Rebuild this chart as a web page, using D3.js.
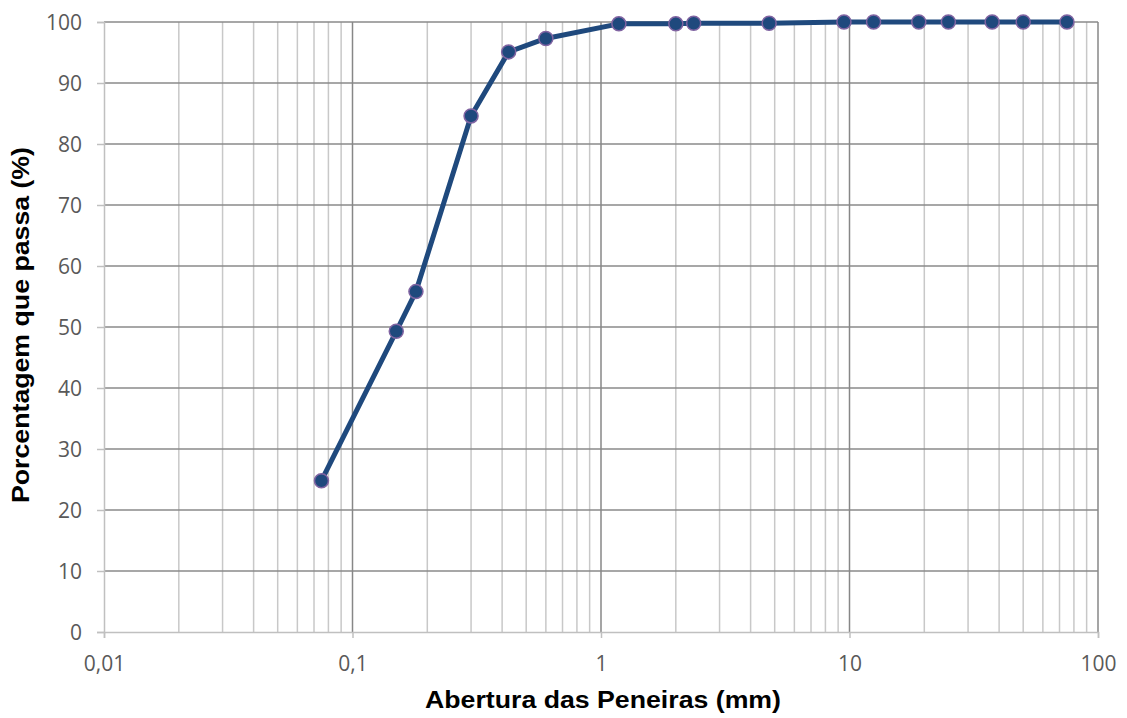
<!DOCTYPE html>
<html>
<head>
<meta charset="utf-8">
<script src="https://cdn.jsdelivr.net/npm/d3@7"></script>
<style>
  html, body { margin: 0; padding: 0; background: #fff; }
  svg { display: block; }
</style>
</head>
<body>
<svg id="chart" width="1127" height="718"></svg>
<script>
// Sieve openings (mm) and cumulative percentage passing
const sieveSizes = [0.075, 0.15, 0.18, 0.3, 0.425, 0.6, 1.18, 2.0, 2.36, 4.75, 9.5, 12.5, 19, 25, 37.5, 50, 75];
const percentPassing = [24.8, 49.3, 55.8, 84.6, 95.1, 97.3, 99.7, 99.7, 99.8, 99.8, 100, 100, 100, 100, 100, 100, 100];

const xTickValues = [0.01, 0.1, 1, 10, 100];
const xTickLabels = ["0,01", "0,1", "1", "10", "100"];
const yTickValues = [0, 10, 20, 30, 40, 50, 60, 70, 80, 90, 100];

const xTitle = "Abertura das Peneiras (mm)";
const yTitle = "Porcentagem que passa (%)";

const svg = d3.select("#chart");
const plotLeft = 104, plotRight = 1098, plotTop = 22, plotBottom = 632;

const x = d3.scaleLog().domain([0.01, 100]).range([plotLeft, plotRight]);
const y = d3.scaleLinear().domain([0, 100]).range([plotBottom, plotTop]);

// Minor vertical gridlines (2..9 within each decade)
const minor = [];
for (let d = 0.01; d < 100; d *= 10) {
  for (let k = 2; k <= 9; k++) minor.push(+(d * k).toPrecision(6));
}
svg.append("g").selectAll("line").data(minor).join("line")
  .attr("x1", d => x(d)).attr("x2", d => x(d))
  .attr("y1", plotTop).attr("y2", plotBottom)
  .attr("stroke", "#c8c8c8").attr("stroke-width", 1.5);

// Horizontal gridlines
svg.append("g").selectAll("line").data(yTickValues.filter(v => v > 0)).join("line")
  .attr("x1", plotLeft).attr("x2", plotRight)
  .attr("y1", d => y(d)).attr("y2", d => y(d))
  .attr("stroke", "#8a8a8a").attr("stroke-width", 1.5);

// Major vertical gridlines at decades
svg.append("g").selectAll("line").data(xTickValues.slice(1)).join("line")
  .attr("x1", d => x(d)).attr("x2", d => x(d))
  .attr("y1", plotTop).attr("y2", plotBottom)
  .attr("stroke", "#878787").attr("stroke-width", 1.5);

// Axes
const fmtX = d => xTickLabels[xTickValues.indexOf(d)];
const xAxis = d3.axisBottom(x).tickValues(xTickValues).tickFormat(fmtX).tickSize(6).tickPadding(18);
const yAxis = d3.axisLeft(y).tickValues(yTickValues).tickSize(7).tickPadding(15);

const gx = svg.append("g").attr("transform", `translate(0,${plotBottom})`).call(xAxis);
const gy = svg.append("g").attr("transform", `translate(${plotLeft},0)`).call(yAxis);

[gx, gy].forEach(g => {
  g.select(".domain").attr("stroke", "#c0c0c0").attr("stroke-width", 1.5);
  g.selectAll(".tick line").attr("stroke", "#c0c0c0").attr("stroke-width", 1.5);
  g.selectAll(".tick text")
    .attr("fill", "#595959")
    .style("font-family", "'Open Sans', 'Noto Sans', sans-serif")
    .style("font-size", "21px");
});
gy.selectAll(".tick text").attr("dy", "0.36em");

// Series line
const line = d3.line().x((d, i) => x(sieveSizes[i])).y(d => y(d));
svg.append("path").datum(percentPassing)
  .attr("d", line)
  .attr("fill", "none")
  .attr("stroke", "#1f497d")
  .attr("stroke-width", 5)
  .attr("stroke-linejoin", "round");

// Markers
svg.append("g").selectAll("circle").data(percentPassing).join("circle")
  .attr("cx", (d, i) => x(sieveSizes[i]))
  .attr("cy", d => y(d))
  .attr("r", 7)
  .attr("fill", "#1f497d")
  .attr("stroke", "#8064a2")
  .attr("stroke-width", 1.5);

// Axis titles
const titleFont = "'Liberation Sans', Arial, sans-serif";
svg.append("text")
  .attr("x", 603).attr("y", 708)
  .attr("text-anchor", "middle")
  .attr("textLength", 356)
  .attr("lengthAdjust", "spacingAndGlyphs")
  .style("font-family", titleFont)
  .style("font-weight", "bold")
  .style("font-size", "23px")
  .attr("fill", "#000")
  .text(xTitle);

svg.append("text")
  .attr("transform", "translate(28.5,325) rotate(-90)")
  .attr("text-anchor", "middle")
  .attr("textLength", 356)
  .attr("lengthAdjust", "spacingAndGlyphs")
  .style("font-family", titleFont)
  .style("font-weight", "bold")
  .style("font-size", "23px")
  .attr("fill", "#000")
  .text(yTitle);
</script>
</body>
</html>
